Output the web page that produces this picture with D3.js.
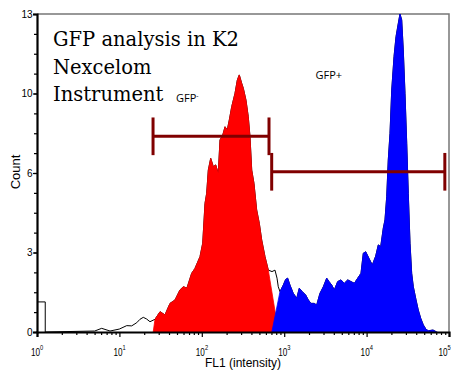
<!DOCTYPE html>
<html>
<head>
<meta charset="utf-8">
<script src="https://cdn.jsdelivr.net/npm/d3@7"></script>
<style>
  body { margin: 0; background: #fff; }
  svg { display: block; }
  .tick text { font-family: "Liberation Sans", Arial, sans-serif; }
</style>
</head>
<body>
<script>
// histogram channel (log10 of FL1) and event count
var fl1Log = [0, 0.1, 0.1, 0.70, 0.785, 0.886, 0.999,
  1.089, 1.149, 1.210, 1.250, 1.290, 1.331, 1.371,
  1.432, 1.493, 1.553, 1.614, 1.675, 1.735, 1.775, 1.820, 1.877, 1.917, 1.978,
  2.011, 2.039, 2.059, 2.079, 2.108, 2.140, 2.169, 2.200, 2.221, 2.254, 2.282, 2.309, 2.334, 2.363, 2.403,
  2.431, 2.455, 2.484, 2.504, 2.536, 2.564, 2.585, 2.606, 2.633, 2.666, 2.698, 2.727, 2.767, 2.807,
  2.852, 2.888, 2.913, 2.928, 2.949, 2.989,
  3.018, 3.042, 3.070, 3.110, 3.152, 3.183, 3.220, 3.261, 3.293, 3.325, 3.365, 3.394, 3.434, 3.475,
  3.516, 3.544, 3.577, 3.608, 3.649, 3.689, 3.729, 3.771, 3.811, 3.851, 3.892, 3.932, 3.960, 3.989,
  4.029, 4.069, 4.110, 4.142, 4.171, 4.203, 4.223, 4.244, 4.263, 4.284, 4.305, 4.333, 4.357, 4.385,
  4.405, 4.426, 4.445, 4.466, 4.487, 4.506, 4.527, 4.547, 4.567, 4.600, 4.627, 4.657, 4.688, 4.721,
  4.749, 4.806, 4.851];
var counts = [1.23, 1.23, 0, 0.04, 0.15, 0.04, 0.12,
  0.26, 0.25, 0.38, 0.52, 0.60, 0.53, 0.42,
  0.52, 0.83, 0.70, 1.17, 1.31, 1.72, 1.85, 1.80, 2.40, 2.60, 3.08,
  3.63, 5.26, 5.67, 6.62, 7.10, 6.76, 6.83, 6.49, 7.85, 8.05, 8.39, 8.26, 8.67, 9.21, 9.76,
  10.30, 10.51, 10.17, 9.96, 9.48, 8.80, 7.98, 6.62, 6.08, 4.99, 4.44, 3.76, 3.08, 2.53,
  2.47, 2.53, 2.20, 1.85, 1.65, 1.92,
  2.15, 2.20, 1.92, 1.58, 1.38, 1.79, 1.65, 1.51, 1.31, 1.17, 1.17, 1.10, 1.58, 1.85,
  2.20, 2.06, 1.92, 1.72, 2.06, 2.13, 1.99, 2.13, 2.06, 1.99, 2.20, 2.40, 3.22, 3.28,
  3.01, 2.74, 3.10, 3.56, 3.49, 4.25, 4.58, 5.53, 7.03, 8.12, 9.89, 11.26, 12.07, 12.62,
  13.0, 12.76, 11.53, 9.76, 7.71, 5.67, 3.63, 2.40, 1.85, 1.31, 0.90, 0.56, 0.29, 0.11,
  0.05, 0.08, 0];

// gated fills: [baseline start, first channel, last channel, baseline end] (log10 FL1)
var negFill = [1.41, 1.43, 2.81, 2.93];
var posFill = [2.85, 2.945, 4.86, 4.86];

// gate bars: FL1 low, FL1 high, count level
var negGate = [25.6, 654, 8.0];
var posGate = [705, 89000, 6.55];

var xTickValues = [1, 10, 100, 1000, 10000, 100000];
var xTickExps = ["0", "1", "2", "3", "4", "5"];
var yTickValues = [0, 3.25, 6.5, 9.75, 13];
var yTickLabels = ["0", "3", "6", "10", "13"];
var titleLines = ["GFP analysis in K2", "Nexcelom", "Instrument"];

var W = 451, H = 370;
var svg = d3.select("body").append("svg").attr("width", W).attr("height", H);

var x = d3.scaleLog().domain([1, 100000]).range([37, 449]);
var y = d3.scaleLinear().domain([0, 13]).range([332, 14]);

var pts = fl1Log.map(function(l, i){ return [Math.pow(10, l), counts[i]]; });

// frame (top and right)
svg.append("path")
  .attr("d", "M" + x(1) + "," + y(13) + "H" + x(100000) + "V" + y(0))
  .attr("fill", "none").attr("stroke", "#777").attr("stroke-width", 1.5);

var line = d3.line().x(function(d){ return x(d[0]); }).y(function(d){ return y(d[1]); });

// full histogram outline
svg.append("path").datum(pts)
  .attr("d", line)
  .attr("fill", "none").attr("stroke", "#000").attr("stroke-width", 1);

function fillPts(f){
  var inside = fl1Log.map(function(l, i){ return [l, counts[i]]; })
    .filter(function(d){ return d[0] >= f[1] && d[0] <= f[2]; });
  var out = [[f[0], 0]].concat(inside).concat([[f[3], 0]]);
  return out.map(function(d){ return [Math.pow(10, d[0]), d[1]]; });
}

svg.append("path").datum(fillPts(negFill))
  .attr("d", line).attr("fill", "#ff0000").attr("stroke", "#ff0000").attr("stroke-width", 0.8);
svg.append("path").datum(fillPts(posFill))
  .attr("d", line).attr("fill", "#0000ff").attr("stroke", "#0000ff").attr("stroke-width", 0.8);

// gates
[negGate, posGate].forEach(function(g){
  var gg = svg.append("g").attr("stroke", "#800000").attr("stroke-width", 3).attr("fill", "none");
  gg.append("line").attr("x1", x(g[0])).attr("x2", x(g[1])).attr("y1", y(g[2])).attr("y2", y(g[2]));
  [g[0], g[1]].forEach(function(v){
    gg.append("line").attr("x1", x(v)).attr("x2", x(v))
      .attr("y1", y(g[2] + 0.77)).attr("y2", y(g[2] - 0.77));
  });
});

// x axis minor ticks
var minor = [];
for (var d = 1; d < 100000; d *= 10) {
  for (var k = 2; k <= 9; k++) minor.push(d * k);
}
svg.append("g").attr("transform", "translate(0," + y(0) + ")")
  .call(d3.axisBottom(x).tickValues(minor).tickSize(3).tickFormat(""))
  .call(function(g){ g.select(".domain").remove(); g.selectAll("line").attr("stroke-width", 1.2); });

var xAxis = svg.append("g").attr("transform", "translate(0," + y(0) + ")")
  .call(d3.axisBottom(x).tickValues(xTickValues).tickSize(5).tickFormat(""));
xAxis.select(".domain").attr("stroke-width", 2.2);
xAxis.selectAll("line").attr("stroke-width", 1.2);
xAxis.selectAll(".tick").each(function(v, i){
  var last = i === xTickValues.length - 1;
  var t = d3.select(this).append("text")
    .attr("fill", "#000").attr("font-size", 10).attr("text-anchor", "start")
    .attr("transform", "translate(" + (last ? -11 : -6.5) + ",24) scale(0.82,1)");
  t.append("tspan").text("10");
  t.append("tspan").attr("font-size", 7).attr("dy", -6).text(xTickExps[i]);
});

// y axis
var yMinor = d3.range(0, 17).map(function(i){ return i * 13 / 16; });
svg.append("g").attr("transform", "translate(" + x(1) + ",0)")
  .call(d3.axisLeft(y).tickValues(yMinor).tickSize(3).tickFormat(""))
  .call(function(g){ g.select(".domain").remove(); g.selectAll("line").attr("stroke-width", 1.2); });

var yAxis = svg.append("g").attr("transform", "translate(" + x(1) + ",0)")
  .call(d3.axisLeft(y).tickValues(yTickValues).tickSize(4)
    .tickFormat(function(v, i){ return yTickLabels[i]; }));
yAxis.select(".domain").attr("stroke-width", 2.2);
yAxis.selectAll("line").attr("stroke-width", 1.2);
yAxis.selectAll("text").attr("font-size", 10).attr("x", -4.5).attr("fill", "#000");

// axis titles
svg.append("text")
  .attr("x", 243).attr("y", 367)
  .attr("text-anchor", "middle")
  .style("font-family", "'Liberation Sans', Arial, sans-serif").style("font-size", "12px")
  .text("FL1 (intensity)");

svg.append("text")
  .attr("transform", "translate(20,172) rotate(-90)")
  .attr("text-anchor", "middle")
  .style("font-family", "'Liberation Sans', Arial, sans-serif").style("font-size", "13px")
  .text("Count");

// title block
svg.selectAll(".title").data(titleLines).enter().append("text")
  .attr("class", "title")
  .attr("x", 53)
  .attr("y", function(d, i){ return 46 + i * 27.5; })
  .style("font-family", "'DejaVu Serif', serif").style("font-size", "19.5px")
  .text(function(d){ return d; });

// gate labels
var neg = svg.append("text").attr("x", 176).attr("y", 101.5)
  .style("font-family", "'Open Sans', sans-serif").style("font-size", "11px");
neg.append("tspan").text("GFP");
neg.append("tspan").attr("dy", -4).style("font-size", "7px").text("-");

svg.append("text").attr("x", 315.5).attr("y", 78.5)
  .style("font-family", "'Open Sans', sans-serif").style("font-size", "11px")
  .text("GFP+");
</script>
</body>
</html>
